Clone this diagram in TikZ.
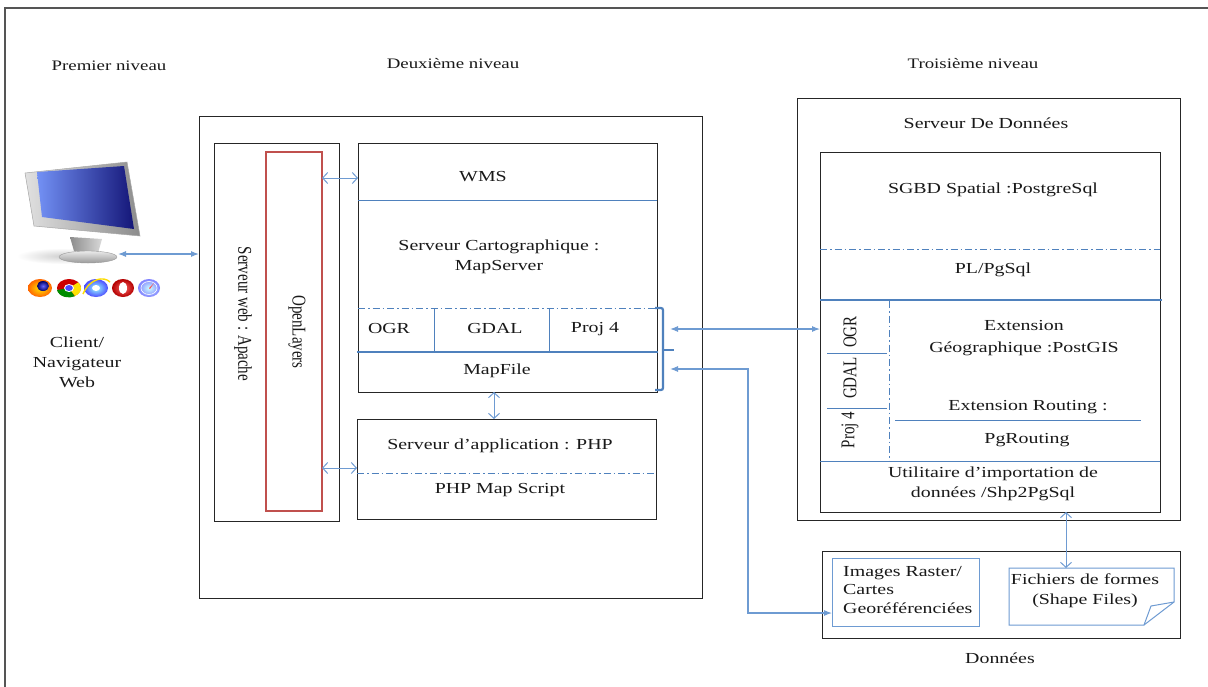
\documentclass[tikz,border=0pt]{standalone}
\usepackage{fontspec}
\setmainfont{Liberation Serif}[FakeStretch=1.3]
\newfontfamily\sidewaysfont{Liberation Serif}[FakeStretch=0.77]
\usetikzlibrary{arrows.meta}

\definecolor{lineblue}{RGB}{79,129,189}
\definecolor{softblue}{RGB}{110,155,210}
\definecolor{boxred}{RGB}{192,80,77}
\definecolor{framegray}{RGB}{85,85,85}
\definecolor{inkgray}{RGB}{25,25,25}
\definecolor{screenlight}{RGB}{115,145,245}
\definecolor{screendark}{RGB}{20,22,120}

\tikzset{
  txt/.style={font=\fontsize{15.3}{20}\selectfont, text=inkgray, inner sep=0pt, align=center},
  sidetxt/.style={font=\sidewaysfont\fontsize{19.5}{22}\selectfont, text=inkgray, inner sep=0pt},
  head/.style={font=\fontsize{14.5}{18}\selectfont, text=inkgray, inner sep=0pt},
  box/.style={draw=black!85, line width=0.8pt, inner sep=0pt, outer sep=0pt, anchor=north west},
  redframe/.style={draw=boxred, line width=1.6pt, inner sep=0pt, outer sep=0pt, anchor=north west},
  blueframe/.style={draw=softblue, line width=1pt, inner sep=0pt, outer sep=0pt, anchor=north west},
  divider/.style={draw=lineblue, line width=0.8pt},
  dashdiv/.style={draw=lineblue, line width=0.8pt, dash pattern=on 7pt off 3pt on 1.5pt off 3pt},
  heavydiv/.style={draw=lineblue, line width=2.2pt},
  filledlink/.style={draw=softblue, line width=1.1pt, {Latex[length=8pt,width=6pt]}-{Latex[length=8pt,width=6pt]}},
  openlink/.style={draw=softblue, line width=1pt, {Straight Barb[length=5pt,width=11pt]}-{Straight Barb[length=5pt,width=11pt]}},
}

\begin{document}
\begin{tikzpicture}[x=1pt,y=-1pt]
\useasboundingbox (0,0) rectangle (1208,686);
\fill[white] (0,0) rectangle (1208,686);

% page frame (runs off the right and bottom)
\begin{scope}
\clip (0,0) rectangle (1208,686);
\draw[framegray, line width=1.5pt] (5,700) -- (5,8) -- (1215,8);
\end{scope}

% level headings
\node[head] (h1) at (109,66) {Premier niveau};
\node[head] (h2) at (453,64) {Deuxième niveau};
\node[head] (h3) at (973,64) {Troisième niveau};

% ---------- client ----------
% soft shadow under the monitor
\shade[inner color=black!18, outer color=white] (62,256) ellipse (45pt and 8pt);
% stand
\shade[left color=black!45, right color=black!15] (70,237) -- (102,239) -- (98,253) -- (74,251) -- cycle;
\shade[top color=black!8, bottom color=black!40] (88,257) ellipse (29pt and 6pt);
\draw[black!40, line width=0.4pt] (88,257) ellipse (29pt and 6pt);
% bezel
\shade[left color=black!12, right color=black!45] (25,173) -- (127,162) -- (140,236) -- (34,226) -- cycle;
\draw[black!35, line width=0.5pt] (25,173) -- (127,162) -- (140,236) -- (34,226) -- cycle;
% screen
\shade[shading angle=135, left color=screenlight, right color=screendark]
  (37,172) -- (124,166) -- (134,229) -- (42,217) -- cycle;
\coordinate (clientport) at (118,254);

% browser icons
\shade[inner color=yellow!80!orange, outer color=orange!80!red] (40,288) ellipse (12pt and 9pt);
\shade[inner color=blue!60, outer color=blue!40!black] (43,286) ellipse (6pt and 5pt);
\fill[red!80!black] (69,288) ellipse (12pt and 9pt);
\fill[green!55!black] (69,288) -- (57,290) arc (190:300:12pt and 9pt) -- cycle;
\fill[yellow!85!orange] (69,288) -- (75,296) arc (300:400:12pt and 9pt) -- cycle;
\fill[white] (69,288) ellipse (5pt and 4pt);
\fill[blue!70] (69,288) ellipse (3.8pt and 3pt);
\shade[inner color=cyan!40, outer color=blue!70] (96,288) ellipse (12pt and 9pt);
\draw[yellow!80!orange, line width=1.4pt] (83,294) .. controls (90,278) and (104,276) .. (110,282);
\fill[white] (96,288) ellipse (4pt and 3pt);
\shade[inner color=red!60, outer color=red!70!black] (123,288) ellipse (11pt and 9pt);
\fill[white] (123,288) ellipse (4pt and 6pt);
\shade[inner color=cyan!20, outer color=blue!50] (149,288) ellipse (11pt and 9pt);
\draw[white, line width=0.6pt] (149,288) ellipse (8pt and 6.5pt);
\fill[red!70] (149,288) -- (154,283) -- (150,289) -- cycle;

\node[txt] (client) at (77,362) {Client/\\Navigateur\\Web};

% ---------- second level ----------
\node[box, minimum width=503pt, minimum height=482pt] (lvl2) at (199,116) {};
\node[box, minimum width=125pt, minimum height=378pt] (web) at (214,143) {};
\node[redframe, minimum width=56pt, minimum height=359pt] (ol) at (266,152) {};
\node[sidetxt, rotate=-90] (webtxt) at (243,314) {Serveur web : Apache};
\node[sidetxt, rotate=-90] (oltxt) at (297,332) {OpenLayers};

% map server block
\node[box, minimum width=299pt, minimum height=249pt] (ms) at (358,143) {};
\node[txt] (wms) at (483,177) {WMS};
\draw[divider] (358,200) -- (657,200);
\node[txt] (carto) at (499,257) {Serveur Cartographique :\\MapServer};
\draw[dashdiv] (358,308) -- (657,308);
\draw[divider] (434,308) -- (434,352);
\draw[divider] (549,308) -- (549,352);
\node[txt] (ogr) at (389,329) {OGR};
\node[txt] (gdal) at (495,329) {GDAL};
\node[txt] (proj) at (595,329) {Proj 4};
\draw[heavydiv] (357,352) -- (658,352);
\node[txt] (mapfile) at (497,371) {MapFile};
% brace grouping the libraries and the mapfile
\draw[heavydiv, rounded corners=2pt] (655,308) -- (663,308) -- (663,390) -- (655,390);
\draw[heavydiv] (663,350) -- (674,350);

% application server
\node[box, minimum width=299pt, minimum height=100pt] (php) at (357,419) {};
\node[txt] (phpsrv) at (500,446) {Serveur d’application : PHP};
\draw[dashdiv] (357,473) -- (656,473);
\node[txt] (phpms) at (500,490) {PHP Map Script};

% ---------- third level ----------
\node[box, minimum width=383pt, minimum height=422pt] (ds) at (797,98) {};
\node[txt] (dstitle) at (986,123) {Serveur De Données};
\node[box, minimum width=340pt, minimum height=360pt] (sgbd) at (820,152) {};
\node[txt] (pg) at (993,190) {SGBD Spatial :PostgreSql};
\draw[dashdiv] (820,249) -- (1160,249);
\node[txt] (plpg) at (993,270) {PL/PgSql};
\draw[heavydiv] (820,300) -- (1162,300);
\draw[dashdiv] (889,301) -- (889,461);
\draw[divider] (827,353) -- (887,353);
\draw[divider] (827,408) -- (887,408);
\node[sidetxt, rotate=90] (ogr2) at (850,332) {OGR};
\node[sidetxt, rotate=90] (gdal2) at (850,378) {GDAL};
\node[sidetxt, rotate=90] (proj2) at (850,430) {Proj 4};
\node[txt, font=\fontsize{15.3}{22}\selectfont] (postgis) at (1024,338) {Extension\\Géographique :PostGIS};
\node[txt] (routing) at (1028,407) {Extension Routing :};
\draw[divider] (895,420) -- (1141,420);
\node[txt] (pgr) at (1027,440) {PgRouting};
\draw[divider] (820,461) -- (1160,461);
\node[txt] (shp2pg) at (993,484) {Utilitaire d’importation de\\données /Shp2PgSql};

% data store
\node[box, minimum width=358pt, minimum height=87pt] (data) at (822,551) {};
\node[blueframe, minimum width=147pt, minimum height=68pt] (img) at (832,558) {};
\node[txt, anchor=west, align=left, font=\fontsize{15.3}{18.5}\selectfont] (imgtxt) at (843,590) {Images Raster/\\Cartes\\Georéférenciées};
\node[inner sep=0pt, outer sep=0pt, minimum width=165pt, minimum height=57pt, anchor=north west] (shp) at (1009,568) {};
\draw[softblue, line width=1pt] (1009,568) -- (1174,568) -- (1174,602) -- (1144,625) -- (1009,625) -- cycle;
\draw[softblue, line width=1pt] (1144,625) -- (1151,606) -- (1174,602);
\node[txt] (shptxt) at (1085,591) {Fichiers de formes\\(Shape Files)};
\node[txt] (donnees) at (1000,658) {Données};

% ---------- connectors ----------
\draw[filledlink] (clientport) -- (clientport -| lvl2.west);
\coordinate (wmsrow) at (0,178);
\draw[openlink] (ol.east |- wmsrow) -- (ms.west |- wmsrow);
\coordinate (phprow) at (0,468);
\draw[openlink] (ol.east |- phprow) -- (php.west |- phprow);
\coordinate (mscol) at (494,0);
\draw[openlink] (ms.south -| mscol) -- (php.north -| mscol);
\coordinate (libport) at (670,329);
\draw[filledlink] (libport) -- (libport -| sgbd.west);
\coordinate (mapport) at (670,369);
\coordinate (turn) at (748,613);
\draw[filledlink] (mapport) -| (turn) -- (turn -| img.west);
\coordinate (shpcol) at (1066,0);
\draw[openlink] (sgbd.south -| shpcol) -- (shp.north -| shpcol);
\end{tikzpicture}
\end{document}
